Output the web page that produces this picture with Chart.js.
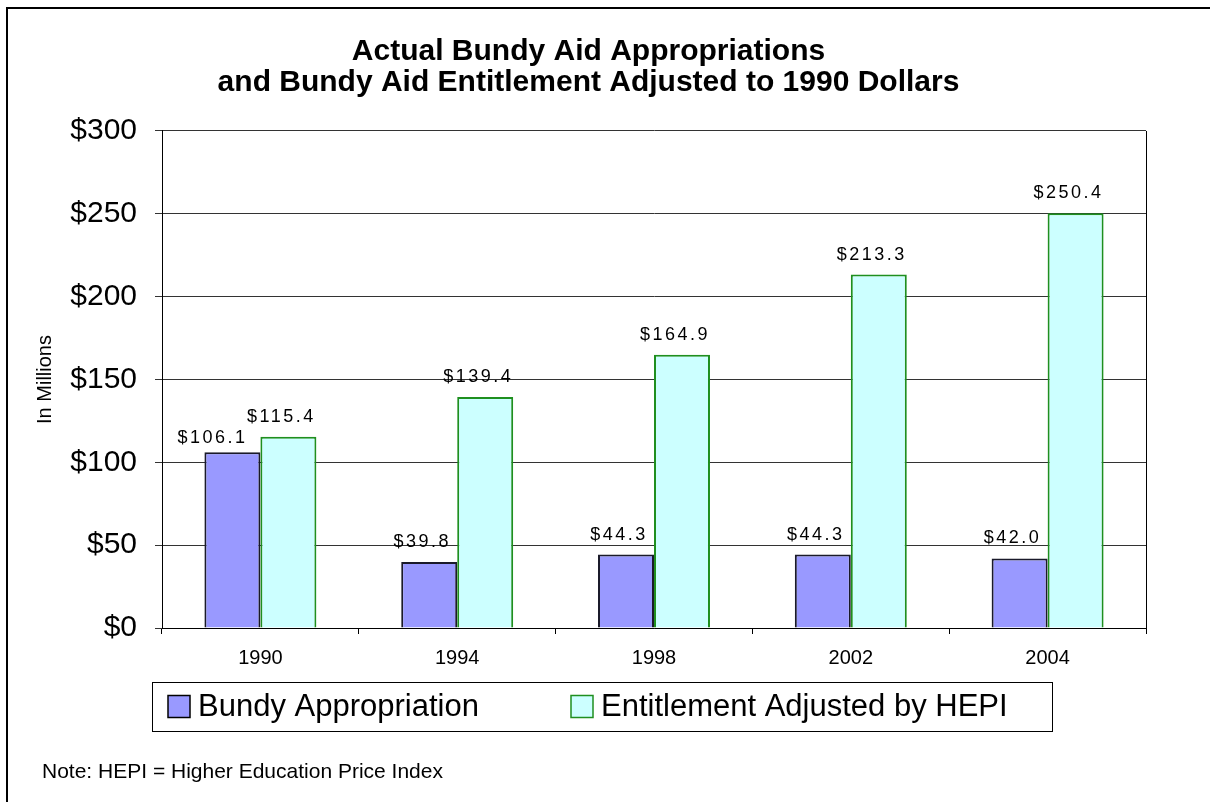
<!DOCTYPE html>
<html>
<head>
<meta charset="utf-8">
<title>Bundy Aid</title>
<script src="https://cdn.jsdelivr.net/npm/chart.js@4.4.1/dist/chart.umd.min.js"></script>
<style>
  html, body { margin: 0; padding: 0; background: #fff; }
  canvas { display: block; }
</style>
</head>
<body>
<canvas id="bundyChart" width="1210" height="802"></canvas>
<script>
const years = ["1990", "1994", "1998", "2002", "2004"];
const bundyAppropriation = [106.1, 39.8, 44.3, 44.3, 42.0];
const entitlementHepi = [115.4, 139.4, 164.9, 213.3, 250.4];
const yTicks = [0, 50, 100, 150, 200, 250, 300];

const FONT = "'Liberation Sans', Arial, sans-serif";

// labels above each bar, frame, boxed legend, footnote
const extrasPlugin = {
  id: "extras",
  afterDatasetsDraw(chart) {
    const ctx = chart.ctx;
    ctx.save();
    ctx.font = "18px " + FONT;
    ctx.fillStyle = "#000";
    ctx.textAlign = "center";
    ctx.textBaseline = "alphabetic";
    if ("letterSpacing" in ctx) ctx.letterSpacing = "2.5px";
    chart.data.datasets.forEach((ds, i) => {
      const meta = chart.getDatasetMeta(i);
      meta.data.forEach((bar, j) => {
        const v = ds.data[j];
        let dx = -7, dy = 15;
        if (i === 0 && j === 0) { dx = -20; dy = 9; }
        ctx.fillText("$" + v.toFixed(1), bar.x + dx, bar.y - dy);
      });
    });
    ctx.restore();
  },
  afterDraw(chart) {
    const ctx = chart.ctx;
    const area = chart.chartArea;
    ctx.save();
    // right side of plot frame
    ctx.strokeStyle = "#000";
    ctx.lineWidth = 1;
    ctx.beginPath();
    ctx.moveTo(Math.round(area.right) + 0.5, area.top);
    ctx.lineTo(Math.round(area.right) + 0.5, area.bottom);
    ctx.stroke();

    // legend box
    const lgTop = area.bottom + 54;
    const lgH = 49;
    ctx.strokeStyle = "#000";
    ctx.lineWidth = 1;
    ctx.strokeRect(152.5, lgTop + 0.5, 900, lgH);
    ctx.font = "31px " + FONT;
    ctx.textAlign = "left";
    ctx.textBaseline = "middle";
    const itemX = [168, 571];
    chart.data.datasets.forEach((ds, i) => {
      const x = itemX[i];
      const cy = lgTop + lgH / 2;
      ctx.fillStyle = ds.backgroundColor;
      ctx.fillRect(x, cy - 11, 22, 22);
      ctx.strokeStyle = i === 0 ? "#000" : ds.borderColor;
      ctx.lineWidth = 1.5;
      ctx.strokeRect(x, cy - 11, 22, 22);
      ctx.fillStyle = "#000";
      ctx.fillText(ds.label, x + 30, cy + 1);
    });

    // outer frame (top + left)
    ctx.strokeStyle = "#000";
    ctx.lineWidth = 2;
    ctx.beginPath();
    ctx.moveTo(7, chart.height);
    ctx.lineTo(7, 8);
    ctx.lineTo(chart.width, 8);
    ctx.stroke();

    // footnote
    ctx.font = "21px " + FONT;
    ctx.fillStyle = "#000";
    ctx.textAlign = "left";
    ctx.textBaseline = "middle";
    ctx.fillText("Note: HEPI = Higher Education Price Index", 42, 772);
    ctx.restore();
  }
};

const ctx = document.getElementById("bundyChart").getContext("2d");
new Chart(ctx, {
  type: "bar",
  data: {
    labels: years,
    datasets: [
      {
        label: "Bundy Appropriation",
        data: bundyAppropriation,
        backgroundColor: "#9999FF",
        borderColor: "#1a1a2a",
        borderWidth: 2,
        borderSkipped: "bottom"
      },
      {
        label: "Entitlement Adjusted by HEPI",
        data: entitlementHepi,
        backgroundColor: "#CCFFFF",
        borderColor: "#1f8f1f",
        borderWidth: 2,
        borderSkipped: "bottom"
      }
    ]
  },
  options: {
    responsive: false,
    animation: false,
    barPercentage: 1.0,
    categoryPercentage: 0.569,
    layout: {
      padding: { left: 31, right: 64, top: 8, bottom: 120 }
    },
    plugins: {
      title: {
        display: true,
        text: [
          "Actual Bundy Aid Appropriations",
          "and Bundy Aid Entitlement Adjusted to 1990 Dollars"
        ],
        color: "#000",
        font: { family: FONT, size: 30, weight: "bold", lineHeight: 1.033 },
        padding: { top: 28.5, bottom: 32.5 }
      },
      legend: { display: false },
      tooltip: { enabled: false }
    },
    scales: {
      x: {
        afterFit(scale) { scale.height = 54; },
        grid: {
          display: true,
          drawOnChartArea: false,
          drawTicks: true,
          tickLength: 6,
          color: "#000",
          offset: true
        },
        border: { color: "#000", width: 1 },
        ticks: {
          color: "#000",
          font: { family: FONT, size: 20 },
          padding: 12
        }
      },
      y: {
        min: 0,
        max: 300,
        afterFit(scale) { scale.width = 131; },
        afterBuildTicks(scale) {
          scale.ticks = yTicks.map(v => ({ value: v }));
        },
        grid: {
          color: "#333",
          drawTicks: true,
          tickLength: 7
        },
        border: { color: "#000", width: 1 },
        ticks: {
          color: "#000",
          font: { family: FONT, size: 30 },
          padding: 18,
          callback: v => "$" + v
        },
        title: {
          display: true,
          text: "In Millions",
          color: "#000",
          font: { family: FONT, size: 20 },
          padding: { top: 2, bottom: 0 }
        }
      }
    }
  },
  plugins: [extrasPlugin]
});
</script>
</body>
</html>
